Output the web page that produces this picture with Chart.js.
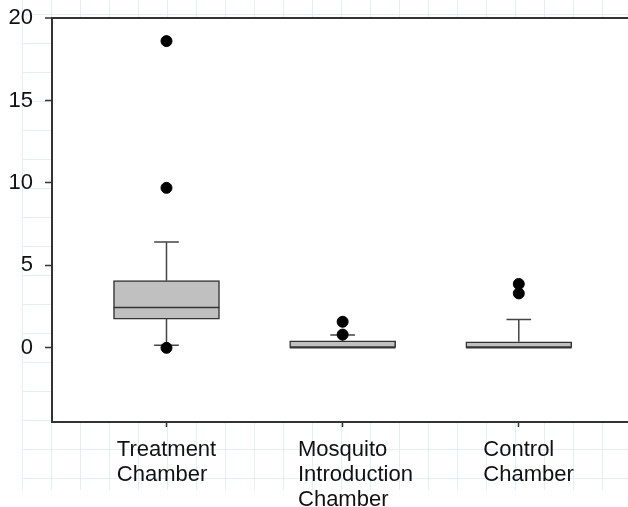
<!DOCTYPE html>
<html>
<head>
<meta charset="utf-8">
<script src="https://cdn.jsdelivr.net/npm/chart.js@4.4.1/dist/chart.umd.min.js"></script>
<style>
  html, body { margin: 0; padding: 0; background: #fff; }
  canvas { display: block; }
</style>
</head>
<body>
<canvas id="chart" width="628" height="507"></canvas>
<script>
// data
const categories = [
  ["Treatment", "Chamber"],
  ["Mosquito", "Introduction", "Chamber"],
  ["Control", "Chamber"],
];
const xPos = [1, 2, 3];
const q1 = [1.74, 0, 0];
const median = [2.45, 0, 0];
const q3 = [4.07, 0.42, 0.36];
const whiskerLow = [0.15, 0, 0];
const whiskerHigh = [6.41, 0.77, 1.72];
const outliers = [[18.6, 9.7, 0], [1.58, 0.8], [3.87, 3.3]];
const yTicks = [0, 5, 10, 15, 20];

const BOX_HALF = 0.3;
const CAP_HALF = 0.07;
const AXIS = "#333";
const FONT = "'Liberation Sans', Arial, sans-serif";

const gap = (x) => ({ x: x, y: null });

const medianPts = [];
const whiskerPts = [];
xPos.forEach((x, i) => {
  medianPts.push({ x: x - BOX_HALF, y: median[i] }, { x: x + BOX_HALF, y: median[i] }, gap(x));
  if (whiskerHigh[i] > q3[i]) {
    whiskerPts.push({ x: x, y: q3[i] }, { x: x, y: whiskerHigh[i] }, gap(x));
    whiskerPts.push({ x: x - CAP_HALF, y: whiskerHigh[i] }, { x: x + CAP_HALF, y: whiskerHigh[i] }, gap(x));
  }
  if (whiskerLow[i] < q1[i]) {
    whiskerPts.push({ x: x, y: q1[i] }, { x: x, y: whiskerLow[i] }, gap(x));
    whiskerPts.push({ x: x - CAP_HALF, y: whiskerLow[i] }, { x: x + CAP_HALF, y: whiskerLow[i] }, gap(x));
  }
});

const outlierPts = outliers.flatMap((vals, i) => vals.map((v) => ({ x: xPos[i], y: v })));

// faint sheet grid behind the figure, plot area white
const sheetPlugin = {
  id: "sheet",
  beforeDraw(chart) {
    const { ctx, chartArea } = chart;
    ctx.save();
    ctx.strokeStyle = "#e2f0f2";
    ctx.lineWidth = 1;
    ctx.beginPath();
    for (let x = 22.5; x < chart.width; x += 29) {
      ctx.moveTo(x, 0);
      ctx.lineTo(x, 490);
    }
    for (let y = 14.5; y <= 480; y += 29) {
      ctx.moveTo(22, y);
      ctx.lineTo(chart.width, y);
    }
    ctx.stroke();
    ctx.fillStyle = "#fff";
    ctx.fillRect(chartArea.left, chartArea.top, chartArea.right - chartArea.left, chartArea.bottom - chartArea.top);
    ctx.restore();
  },
};

// category labels: first line centred on the tick, following lines left-aligned with it
const labelPlugin = {
  id: "catLabels",
  afterDraw(chart) {
    const { ctx, chartArea } = chart;
    const xs = chart.scales.x;
    ctx.save();
    ctx.font = "22px " + FONT;
    ctx.fillStyle = "#111";
    ctx.textAlign = "left";
    ctx.textBaseline = "alphabetic";
    categories.forEach((lines, i) => {
      const px = xs.getPixelForValue(xPos[i]);
      const w = ctx.measureText(lines[0]).width;
      lines.forEach((t, j) => {
        ctx.fillText(t, px - w / 2, chartArea.bottom + 34 + j * 25);
      });
    });
    ctx.restore();
  },
};

new Chart(document.getElementById("chart").getContext("2d"), {
  type: "bar",
  data: {
    datasets: [
      {
        type: "scatter",
        data: outlierPts,
        backgroundColor: "#000",
        borderColor: "#000",
        pointRadius: 5.5,
        pointHoverRadius: 5.5,
        order: 0,
      },
      {
        type: "line",
        data: whiskerPts,
        borderColor: "#444",
        borderWidth: 1.5,
        pointRadius: 0,
        spanGaps: false,
        order: 1,
      },
      {
        type: "line",
        data: medianPts,
        borderColor: "#333",
        borderWidth: 1.5,
        pointRadius: 0,
        spanGaps: false,
        order: 1,
      },
      {
        type: "bar",
        data: xPos.map((x, i) => ({ x: x, y: [q1[i], q3[i]] })),
        backgroundColor: "#c0c0c0",
        borderColor: "#333",
        borderWidth: 1.5,
        borderSkipped: false,
        barThickness: 106,
        order: 2,
      },
    ],
  },
  options: {
    responsive: false,
    animation: false,
    events: [],
    layout: { autoPadding: false, padding: { top: 18, left: 0, right: 0, bottom: 0 } },
    plugins: {
      legend: { display: false },
      tooltip: { enabled: false },
    },
    scales: {
      x: {
        type: "linear",
        offset: false,
        min: 0.35,
        max: 3.62,
        afterBuildTicks: (s) => {
          s.ticks = xPos.map((v) => ({ value: v }));
        },
        afterFit: (s) => {
          s.height = 85;
          s.paddingLeft = 0;
          s.paddingRight = 0;
        },
        ticks: { callback: () => "", padding: 0 },
        grid: {
          offset: false,
          drawOnChartArea: false,
          drawTicks: true,
          tickLength: 5,
          color: AXIS,
          tickWidth: 1.5,
        },
        border: { display: true, color: AXIS, width: 2 },
      },
      y: {
        type: "linear",
        min: -4.5,
        max: 20,
        afterBuildTicks: (s) => {
          s.ticks = yTicks.map((v) => ({ value: v }));
        },
        afterFit: (s) => {
          s.width = 52;
          s.paddingTop = 0;
          s.paddingBottom = 0;
        },
        ticks: {
          color: "#111",
          padding: 12,
          font: { family: FONT, size: 22 },
        },
        grid: {
          drawTicks: true,
          tickLength: 7,
          tickColor: AXIS,
          tickWidth: 1.5,
          color: (c) => (c.tick && c.tick.value === 20 ? AXIS : "rgba(0,0,0,0)"),
          lineWidth: (c) => (c.tick && c.tick.value === 20 ? 2 : 1),
        },
        border: { display: true, color: AXIS, width: 2 },
      },
    },
  },
  plugins: [sheetPlugin, labelPlugin],
});
</script>
</body>
</html>
